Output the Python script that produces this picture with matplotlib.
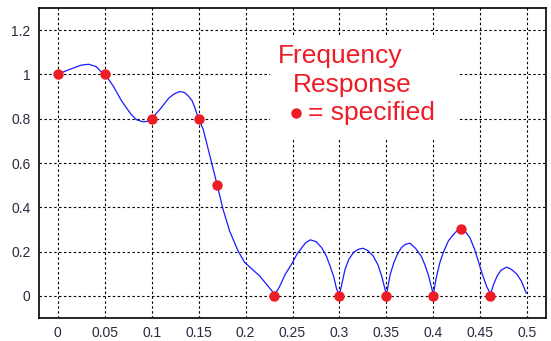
import numpy as np
import matplotlib
matplotlib.use("Agg")
import matplotlib.pyplot as plt
from matplotlib.patches import Rectangle

plt.rcParams['font.family'] = ['Liberation Sans', 'DejaVu Sans']

# specified points of the desired response
spec_freq = [0.0, 0.05, 0.1, 0.15, 0.17, 0.23, 0.3, 0.35, 0.4, 0.43, 0.46]
spec_mag = [1.0, 1.0, 0.8, 0.8, 0.5, 0.0, 0.0, 0.0, 0.0, 0.3, 0.0]

# achieved magnitude response
resp_freq = [0.000, 0.008, 0.016, 0.025, 0.033, 0.041, 0.049, 0.054, 0.059,
             0.068, 0.078, 0.084, 0.091, 0.095, 0.100, 0.109, 0.118, 0.124,
             0.130, 0.135, 0.139, 0.143, 0.146, 0.150, 0.155, 0.162, 0.170,
             0.176, 0.183, 0.192, 0.199, 0.215, 0.228, 0.231, 0.236, 0.242,
             0.249, 0.255, 0.260, 0.264, 0.269, 0.275, 0.281, 0.286, 0.290,
             0.294, 0.297, 0.300, 0.306, 0.310, 0.315, 0.320, 0.325, 0.330,
             0.336, 0.341, 0.345, 0.350, 0.354, 0.358, 0.362, 0.366, 0.370,
             0.375, 0.381, 0.387, 0.391, 0.395, 0.400, 0.403, 0.407, 0.411,
             0.416, 0.421, 0.425, 0.431, 0.435, 0.439, 0.444, 0.448, 0.452,
             0.457, 0.461, 0.464, 0.468, 0.472, 0.478, 0.483, 0.489, 0.494,
             0.499]
resp_mag = [1.000, 1.015, 1.028, 1.042, 1.046, 1.035, 1.000, 0.978, 0.948,
            0.880, 0.820, 0.795, 0.786, 0.788, 0.800, 0.843, 0.892, 0.912,
            0.923, 0.918, 0.903, 0.882, 0.850, 0.800, 0.750, 0.632, 0.497,
            0.391, 0.293, 0.203, 0.151, 0.090, 0.023, 0.005, 0.040, 0.095,
            0.143, 0.190, 0.218, 0.240, 0.253, 0.245, 0.218, 0.180, 0.135,
            0.085, 0.030, 0.005, 0.120, 0.165, 0.196, 0.210, 0.215, 0.205,
            0.180, 0.140, 0.090, 0.005, 0.095, 0.151, 0.190, 0.218, 0.232,
            0.238, 0.215, 0.180, 0.140, 0.090, 0.005, 0.080, 0.151, 0.200,
            0.248, 0.275, 0.293, 0.300, 0.285, 0.262, 0.210, 0.155, 0.100,
            0.040, 0.008, 0.050, 0.090, 0.115, 0.130, 0.120, 0.098, 0.065,
            0.012]

xticks = [0, 0.05, 0.1, 0.15, 0.2, 0.25, 0.3, 0.35, 0.4, 0.45, 0.5]
xticklabels = ['0', '0.05', '0.1', '0.15', '0.2', '0.25', '0.3', '0.35',
               '0.4', '0.45', '0.5']
yticks = [0, 0.2, 0.4, 0.6, 0.8, 1.0, 1.2]
yticklabels = ['0', '0.2', '0.4', '0.6', '0.8', '1', '1.2']

red = '#ee1c25'

fig = plt.figure(figsize=(5.51, 3.41), dpi=100)
ax = fig.add_axes([39 / 551, 23 / 341, 507 / 551, 310 / 341])

ax.set_xlim(-0.02, 0.52)
ax.set_ylim(-0.1, 1.3)
ax.set_xticks(xticks)
ax.set_xticklabels(xticklabels)
ax.set_yticks(yticks)
ax.set_yticklabels(yticklabels)
ax.tick_params(length=0, labelsize=10, labelcolor='#2a2a40', pad=6)

ax.set_axisbelow(True)
ax.grid(True, color='black', linestyle=(0, (2.2, 2.2)), linewidth=0.8)
for side in ax.spines:
    ax.spines[side].set_linewidth(1.2)
    ax.spines[side].set_color('black')

# white panel behind the annotation
ax.add_patch(Rectangle((0.456, 0.581), 0.37, 0.325, transform=ax.transAxes,
                       facecolor='white', edgecolor='none', zorder=1))

ax.plot(resp_freq, resp_mag, color='#1a1aff', linewidth=0.9, zorder=2)
ax.plot(spec_freq, spec_mag, 'o', color=red, markersize=7.5,
        markeredgewidth=0, zorder=3)

ax.text(0.471, 0.823, 'Frequency', transform=ax.transAxes, color=red,
        fontsize=19, va='baseline', ha='left', zorder=4)
ax.text(0.501, 0.729, 'Response', transform=ax.transAxes, color=red,
        fontsize=19, va='baseline', ha='left', zorder=4)
ax.plot([0.507], [0.661], 'o', transform=ax.transAxes, color=red,
        markersize=7.5, markeredgewidth=0, zorder=4, clip_on=False)
ax.text(0.531, 0.639, '= specified', transform=ax.transAxes, color=red,
        fontsize=19, va='baseline', ha='left', zorder=4)

fig.savefig('out.png', dpi=100)
